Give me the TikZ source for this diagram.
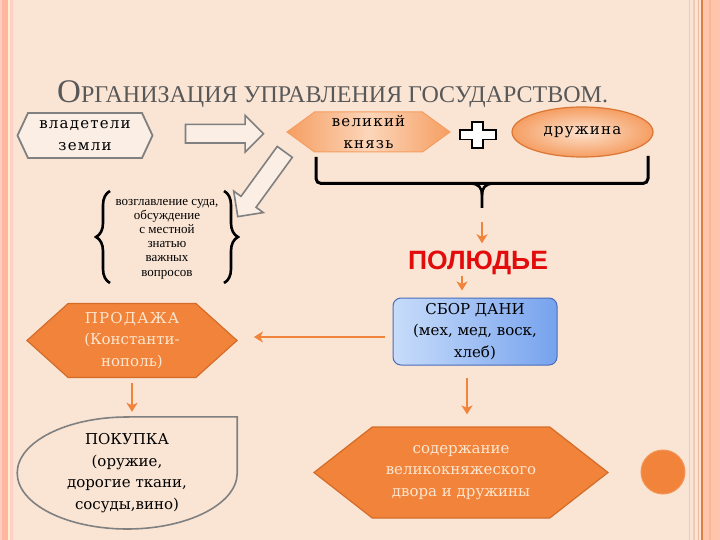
\documentclass[tikz,border=0pt]{standalone}
\usepackage{fontspec}
\setmainfont{Liberation Serif}
\newfontfamily\boxf{DejaVu Serif}
\newfontfamily\wboxf[LetterSpace=8]{DejaVu Serif}
\newfontfamily\sansf{Liberation Sans}
\usetikzlibrary{shapes.symbols,shapes.arrows,shapes.geometric,arrows.meta,decorations.pathreplacing,calc}
\definecolor{bg}{RGB}{250,229,213}
\definecolor{org}{RGB}{241,131,58}
\definecolor{orgd}{RGB}{212,108,40}
\definecolor{cream}{RGB}{253,230,208}
\definecolor{lorg}{RGB}{252,214,186}
\definecolor{morg}{RGB}{245,158,98}
\definecolor{gry}{RGB}{128,128,128}
\definecolor{ttl}{RGB}{88,88,88}
\definecolor{lb}{RGB}{200,220,250}
\definecolor{db}{RGB}{118,163,238}
\definecolor{bb}{RGB}{72,108,185}
\definecolor{pred}{RGB}{226,12,12}
\definecolor{hfill}{RGB}{251,238,228}
\definecolor{sl1}{RGB}{255,205,190}
\definecolor{sl2}{RGB}{255,182,162}
\definecolor{sl3}{RGB}{255,240,200}
\definecolor{sl4}{RGB}{255,208,198}
\definecolor{sl5}{RGB}{253,222,212}
\definecolor{sr1}{RGB}{240,202,182}
\definecolor{sr2}{RGB}{236,184,158}
\definecolor{sr3}{RGB}{222,128,70}
\definecolor{sr4}{RGB}{255,197,172}
\definecolor{sr5}{RGB}{250,182,152}
\begin{document}
\begin{tikzpicture}[x=1pt,y=-1pt,
  hexa/.style={signal, signal to=west and east, inner sep=0pt, align=center},
  oarr/.style={draw=org, line width=2.6pt, -{Stealth[length=9pt,width=11pt,inset=2.5pt]}},
  harr/.style={single arrow, draw=gry, line width=1.6pt, fill=hfill, inner sep=8.5pt,
     single arrow head extend=9pt, single arrow head indent=0pt},
  txt/.style={font=\boxf\fontsize{15}{21.5}\selectfont, align=center},
  wtxt/.style={font=\wboxf\fontsize{15}{22}\selectfont, align=center}]
\useasboundingbox (0,0) rectangle (720,540);
\fill[bg] (0,0) rectangle (720,540);
% frame stripes
\fill[sl1] (0,0) rectangle (2,540);
\fill[sl2] (2,0) rectangle (8,540);
\fill[sl3] (8,0) rectangle (10,540);
\fill[sl4] (10,0) rectangle (12.5,540);
\fill[sl5] (12.5,0) rectangle (14,540);
\fill[sr1] (688.5,0) rectangle (690,540);
\fill[sr1] (693,0) rectangle (694.5,540);
\fill[sr2] (697.5,0) rectangle (699,540);
\fill[sr3] (700.5,0) rectangle (702.5,540);
\fill[sr4] (702.5,0) rectangle (720,540);
\fill[sr5] (709,0) rectangle (710.5,540);
% title
\node[anchor=base west, text=ttl, inner sep=0] (title) at (57,103)
  {\fontsize{33}{33}\selectfont О\fontsize{24}{24}\selectfont РГАНИЗАЦИЯ УПРАВЛЕНИЯ ГОСУДАРСТВОМ.};
% top row
\node[hexa, wtxt, minimum width=135pt, minimum height=45pt, signal pointer angle=130,
  draw=gry, line width=1.8pt, fill=hfill] (vlad) at (85,135.5) {владетели\\земли};
\node[hexa, wtxt, minimum width=163pt, minimum height=40pt, signal pointer angle=72,
  draw=morg, line width=1pt, left color=morg, right color=morg, middle color=lorg] (knyaz) at (368.5,132) {великий\\князь};
\draw[line width=1.8pt, fill=white] (472,122) -- (483,122) -- (483,130) -- (496,130) -- (496,139.5)
  -- (483,139.5) -- (483,148) -- (472,148) -- (472,139.5) -- (460,139.5) -- (460,130) -- (472,130) -- cycle;
\node[ellipse, wtxt, minimum width=141pt, minimum height=50pt, inner sep=0pt, draw=orgd!80!morg, line width=1.2pt,
  shading=radial, inner color=lorg!70!white, outer color=morg] (druz) at (582.5,132) {дружина};
% hollow arrows
\path (vlad.east) -- (knyaz.west) node[midway, harr, minimum height=78pt] (harr1) {};
\node[harr, minimum height=80pt, rotate=234] (harr2) at (264,180.5) {};
% big bracket
\coordinate (bl) at (316,157);
\coordinate (br) at (648,156);
\coordinate (bt) at (482,208);
\draw[line width=3pt, rounded corners=5pt] (bl) -- (316,183.5) -- (648,183.5) -- (br);
\draw[line width=2.6pt] (471,183.5) .. controls (479,184) and (482,188) .. (482,195) -- (bt);
\draw[line width=2.6pt] (493,183.5) .. controls (485,184) and (482,188) .. (482,195);
% braced text
\node[align=center, inner sep=0pt, font=\fontsize{13}{14.2}\selectfont] (glav) at (167,239)
  {возглавление суда,\\обсуждение\\с местной\\знатью\\важных\\вопросов};
\draw[line width=2.6pt, decorate, decoration={brace, amplitude=14pt}] (110,283) -- (110,191);
\draw[line width=2.6pt, decorate, decoration={brace, amplitude=14pt}] (224,191) -- (224,283);
% middle column
\node[anchor=base, inner sep=0pt, text=pred, font=\sansf\bfseries\fontsize{26.5}{26.5}\selectfont] (pol) at (478,269) {ПОЛЮДЬЕ};
\node[txt, rectangle, rounded corners=8pt, minimum width=164pt, minimum height=67pt, inner sep=0pt,
  draw=bb, line width=1pt, left color=lb, right color=db] (sbor) at (475,331.5)
  {СБОР ДАНИ\\(мех, мед, воск,\\хлеб)};
\node[hexa, txt, text=cream, minimum width=210pt, minimum height=74pt, signal pointer angle=84,
  draw=orgd, line width=1.2pt, fill=org] (prod) at (132,340.5) {{\wboxf ПРОДАЖА}\\(Константи-\\нополь)};
\node[hexa, txt, text=cream, minimum width=294pt, minimum height=91pt, signal pointer angle=76,
  draw=orgd, line width=1.2pt, fill=org] (soder) at (461,472.5) {содержание\\великокняжеского\\двора и дружины};
% pokupka
\node[txt, rectangle, minimum width=220pt, minimum height=112pt, inner sep=0pt] (pok) at (127,473)
  {ПОКУПКА\\(оружие,\\дорогие ткани,\\сосуды,вино)};
\draw[draw=gry, line width=1.6pt] (pok.north) -- (pok.north east) -- (pok.east)
  arc[start angle=0, end angle=270, x radius=110, y radius=56] -- cycle;
% dot
\node[circle, fill=org, draw=org!85!white, line width=1pt, minimum size=44pt, inner sep=0pt] (dot) at (663,472) {};
% orange connectors
\draw[oarr, shorten <=14pt, shorten >=7pt] (bt) -- (bt |- pol.north);
\draw[oarr, shorten <=2pt, shorten >=7pt] ($(pol.south)+(-16,0)$) -- ($(sbor.north)+(-13,0)$);
\draw[oarr, shorten <=8pt, shorten >=16pt] ([yshift=-5.5pt]sbor.west) -- ([yshift=-5.5pt]sbor.west -| prod.east);
\draw[oarr, shorten <=5pt, shorten >=5pt] (prod.south) -- (prod.south |- pok.north);
\draw[oarr, shorten <=12pt, shorten >=12pt] ([xshift=-8pt]sbor.south) -- ([xshift=-8pt]sbor.south |- soder.north);
\end{tikzpicture}
\end{document}
